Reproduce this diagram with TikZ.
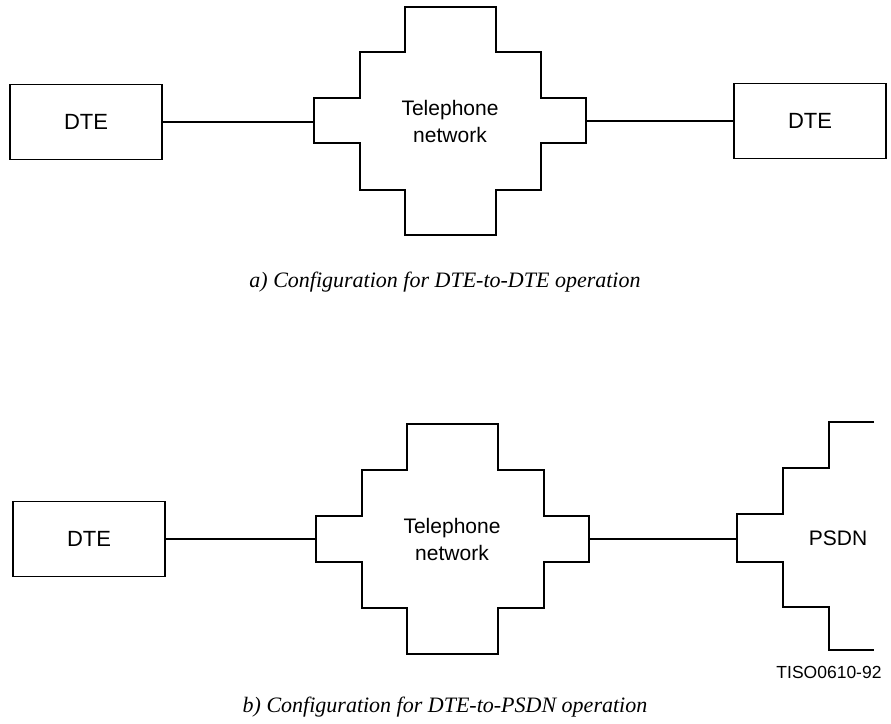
\documentclass[tikz,border=0pt]{standalone}
\usepackage{fontspec}
\setmainfont{Liberation Serif}
\setsansfont{Liberation Sans}
\usetikzlibrary{positioning}
\tikzset{dte node/.style={rectangle, draw, minimum width=152pt, minimum height=75pt, inner sep=0pt, font=\sffamily\fontsize{22}{26}\selectfont},
    net label/.style={align=center, inner sep=0pt, font=\sffamily\fontsize{21}{27}\selectfont},
    caption/.style={anchor=base, inner sep=0pt, font=\itshape\fontsize{22}{26}\selectfont},
    tag/.style={inner sep=0pt, font=\sffamily\fontsize{17.5}{20}\selectfont},}

\begin{document}
\begin{tikzpicture}[x=1pt, y=-1pt, line width=1.6pt]
        \useasboundingbox (0,0) rectangle (891,723);
        % a) DTE-to-DTE
        \node[dte node] (dteA1) at (86,122) {DTE};
        \node[dte node] (dteA2) at (810,121) {DTE};
        \node[net label] (netA) at (450,121) {Telephone\\network};
        \coordinate (netA-w) at (314,122);
        \coordinate (netA-e) at (586,121);
        \draw (405,7) -- (496,7) -- (496,52) -- (541,52) -- (541,98) -- (586,98)
            -- (586,143) -- (541,143) -- (541,190) -- (496,190) -- (496,235)
            -- (405,235) -- (405,190) -- (360,190) -- (360,143) -- (314,143)
            -- (314,98) -- (360,98) -- (360,52) -- (405,52) -- cycle;
        \node[caption] (capA) at (445,287) {a) Configuration for DTE-to-DTE operation};
        % b) DTE-to-PSDN
        \node[dte node] (dteB) at (89,539) {DTE};
        \node[net label] (netB) at (452,539) {Telephone\\network};
        \coordinate (netB-w) at (316,539);
        \coordinate (netB-e) at (589,539);
        \draw (407,424) -- (498,424) -- (498,470) -- (544,470) -- (544,516) -- (589,516)
            -- (589,562) -- (544,562) -- (544,608) -- (498,608) -- (498,654)
            -- (407,654) -- (407,608) -- (362,608) -- (362,562) -- (316,562)
            -- (316,516) -- (362,516) -- (362,470) -- (407,470) -- cycle;
        \node[net label] (psdn) at (838,538) {PSDN};
        \coordinate (psdn-w) at (737,539);
        \draw (874,422) -- (829,422) -- (829,468) -- (783,468) -- (783,514) -- (737,514)
            -- (737,562) -- (783,562) -- (783,607) -- (829,607) -- (829,650) -- (874,650);
        \node[tag] (fig) at (829,672) {TISO0610-92};
        \node[caption] (capB) at (445,712) {b) Configuration for DTE-to-PSDN operation};
        % Paths
        \path[draw]
        (dteA1) edge (netA-w)
        (netA-e) edge (dteA2)
        (dteB) edge (netB-w)
        (netB-e) edge (psdn-w);
    \end{tikzpicture}
\end{document}
